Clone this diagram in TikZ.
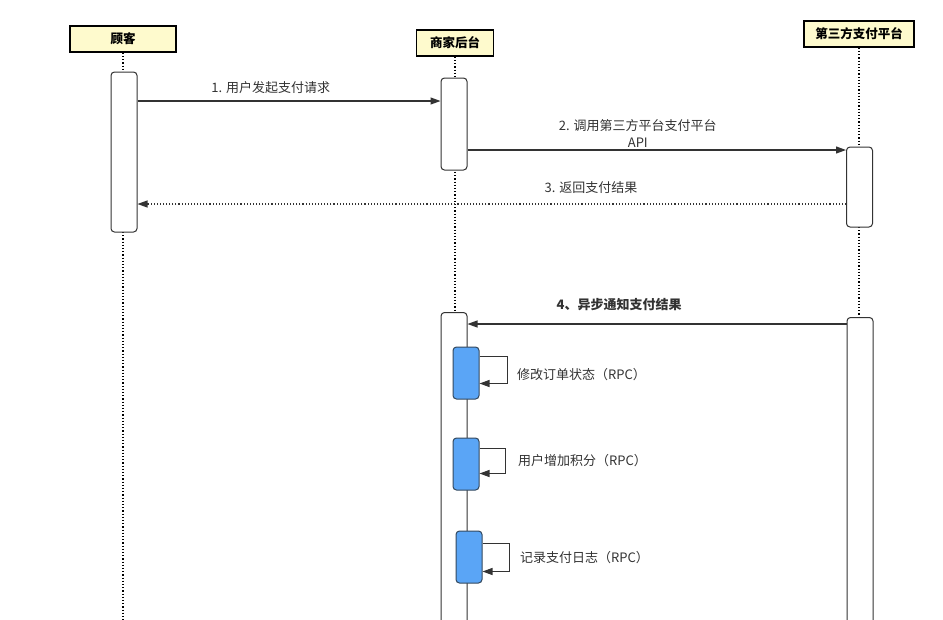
\documentclass[tikz,border=0pt]{standalone}
\usepackage{fontspec}
\setmainfont{Noto Sans CJK SC}
\usepackage{xcolor}
\usetikzlibrary{arrows.meta, calc, positioning}

\definecolor{headfill}{HTML}{FEFACD}
\definecolor{inkgray}{HTML}{333333}
\definecolor{callblue}{HTML}{5AA5F6}
\definecolor{callrim}{HTML}{34495E}

\begin{document}
\begin{tikzpicture}[x=1pt, y=-1pt,
    >={Triangle[length=10pt, width=7pt]},
    head/.style={draw=black, line width=1.4pt, fill=headfill, minimum height=26pt,
                 inner sep=0pt, font=\fontsize{12.5}{13}\selectfont\bfseries},
    act/.style={draw=inkgray, line width=1pt, fill=white, rounded corners=3.5pt,
                minimum width=26pt, inner sep=0pt},
    rpc/.style={draw=callrim, line width=1pt, fill=callblue, rounded corners=3.5pt,
                minimum width=26pt, minimum height=52pt, inner sep=0pt},
    life/.style={dotted, line width=1.2pt},
    msg/.style={->, draw=inkgray, line width=1.1pt},
    reply/.style={msg, dotted},
    lbl/.style={font=\fontsize{13}{17}\selectfont, text=inkgray, inner sep=0pt},
]
\clip (0,0) rectangle (943,619);
\fill[white] (0,0) rectangle (943,619);

% participants
\node[head, minimum width=106pt] (cust) at (123,39) {顾客};
\node[head, minimum width=77pt]  (shop) at (455,43) {商家后台};
\node[head, minimum width=110pt] (pay)  at (859,34) {第三方支付平台};

% lifelines
\coordinate (bot) at (0,640);
\foreach \p in {cust, shop, pay}
  \draw[life] (\p.south) -- (\p.south |- bot);

% activation bars
\node[act, minimum height=160pt] (custA) at (124,152) {};
\node[act, minimum height=92pt]  (shopA) at (454,124) {};
\node[act, minimum height=80pt]  (payA)  at (859.5,187) {};
\node[act, minimum height=340pt, anchor=north] (shopB) at (454,312) {};
\node[act, minimum height=340pt, anchor=north] (payB)  at (860,317) {};

% messages
\coordinate (m1) at (0,101);
\coordinate (m2) at (0,150);
\coordinate (m3) at (0,204);
\coordinate (m4) at (0,324);
\draw[msg] (custA.east |- m1) -- node[lbl, above=7pt, pos=0.44] {1. 用户发起支付请求} (shopA.west |- m1);
\draw[msg] (shopA.east |- m2) -- node[lbl, above=2pt, pos=0.45, align=center]
   {2. 调用第三方平台支付平台\\API} (payA.west |- m2);
\draw[reply] (payA.west |- m3) -- node[lbl, above=10pt, pos=0.36] {3. 返回支付结果} (custA.east |- m3);
\draw[msg] (payB.west |- m4) -- node[lbl, above=13pt, pos=0.6, font=\fontsize{13}{17}\selectfont\bfseries]
   {4、异步通知支付结果} (shopB.east |- m4);

% self calls on the shop side
\node[rpc] (r1) at (466,373) {};
\node[rpc] (r2) at (466,464) {};
\node[rpc] (r3) at (469,557) {};
\draw[msg] ([yshift=-10pt]r1.north east) -- ++(28,0)
   -- node[lbl, right=9pt, yshift=-5pt] {修改订单状态（RPC）} ++(0,27) -- ++(-28,0);
\draw[msg] ([yshift=-11pt]r2.north east) -- ++(26,0)
   -- node[lbl, right=12pt] {用户增加积分（RPC）} ++(0,25) -- ++(-26,0);
\draw[msg] ([yshift=-13pt]r3.north east) -- ++(27,0)
   -- node[lbl, right=10pt] {记录支付日志（RPC）} ++(0,28) -- ++(-27,0);
\end{tikzpicture}
\end{document}
